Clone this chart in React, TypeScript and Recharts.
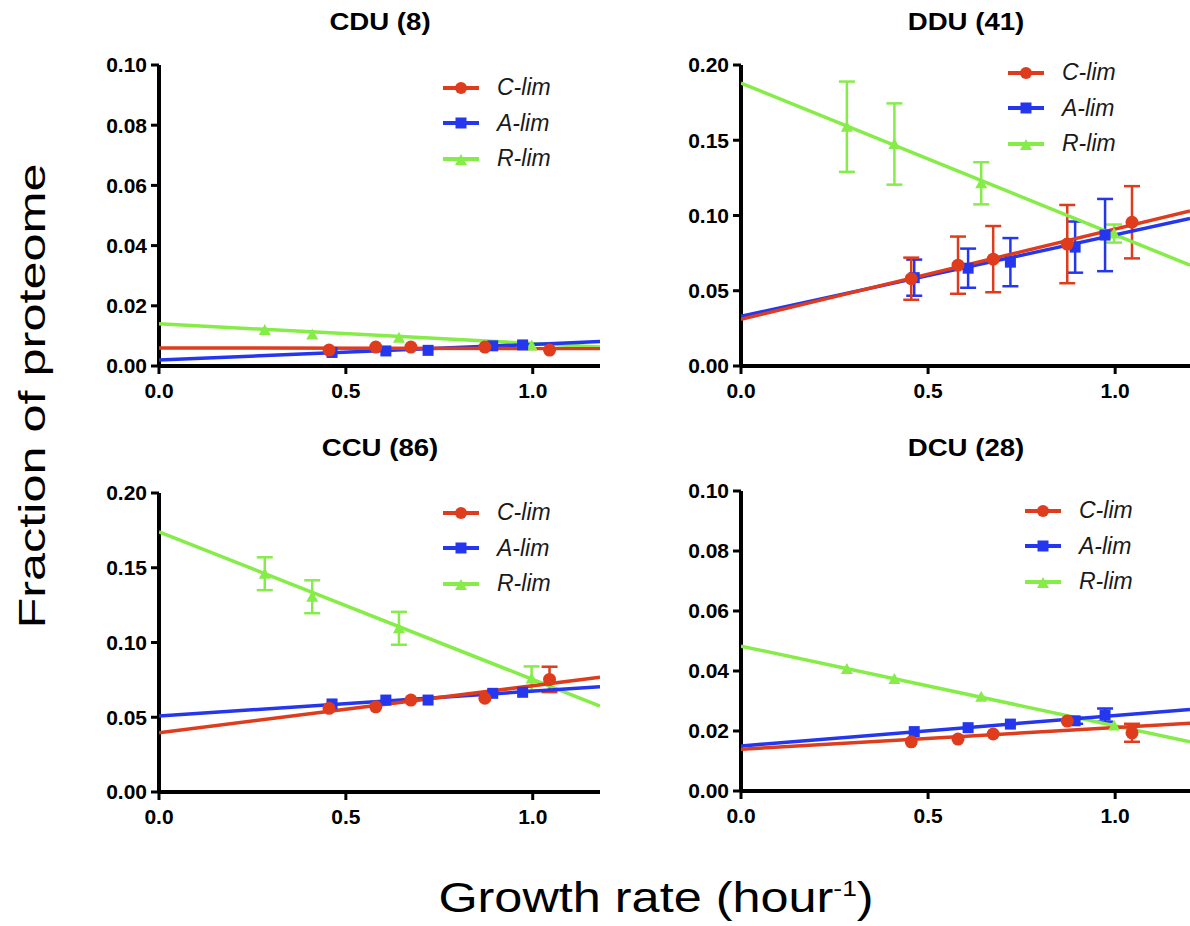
import React from "react";
import { ScatterChart, Scatter, XAxis, YAxis, ErrorBar } from "recharts";

const FONT = '"Liberation Sans", Arial, Helvetica, sans-serif';
const RED = "#df3c1d";
const BLUE = "#2437ee";
const GREEN = "#86ec48";

// growth rates of the three limitation series
const C_RATE = [0.455, 0.58, 0.674, 0.872, 1.045];
const A_RATE = [0.463, 0.607, 0.72, 0.893, 0.973];
const R_RATE = [0.283, 0.41, 0.642, 0.997];

// CDU (8)
const CDU_C = [0.0053, 0.0063, 0.0063, 0.0063, 0.0053];
const CDU_A = [0.0045, 0.005, 0.0052, 0.0067, 0.007];
const CDU_R = [0.012, 0.0105, 0.0094, 0.0068];
const CDU_C_ERR = [0, 0, 0, 0, 0];
const CDU_A_ERR = [0, 0, 0, 0, 0];
const CDU_R_ERR = [0, 0, 0, 0];
const CDU_C_FIT = [0.006, 0.0058];
const CDU_A_FIT = [0.002, 0.0081];
const CDU_R_FIT = [0.014, 0.0063];

// DDU (41)
const DDU_C = [0.058, 0.067, 0.071, 0.081, 0.0955];
const DDU_A = [0.0587, 0.065, 0.069, 0.079, 0.087];
const DDU_R = [0.159, 0.1475, 0.1214, 0.088];
const DDU_C_ERR = [0.014, 0.019, 0.022, 0.026, 0.024];
const DDU_A_ERR = [0.012, 0.013, 0.016, 0.017, 0.024];
const DDU_R_ERR = [0.03, 0.027, 0.014, 0.006];
const DDU_C_FIT = [0.031, 0.103];
const DDU_A_FIT = [0.033, 0.098];
const DDU_R_FIT = [0.188, 0.067];

// CCU (86)
const CCU_C = [0.056, 0.057, 0.0615, 0.0627, 0.0753];
const CCU_A = [0.0589, 0.0615, 0.0615, 0.066, 0.0667];
const CCU_R = [0.146, 0.1306, 0.1095, 0.076];
const CCU_C_ERR = [0, 0, 0, 0, 0.0085];
const CCU_A_ERR = [0, 0, 0, 0, 0];
const CCU_R_ERR = [0.011, 0.011, 0.011, 0.008];
const CCU_C_FIT = [0.0397, 0.0767];
const CCU_A_FIT = [0.0508, 0.0704];
const CCU_R_FIT = [0.174, 0.0575];

// DCU (28)
const DCU_C = [0.0164, 0.0173, 0.019, 0.0233, 0.0194];
const DCU_A = [0.0198, 0.0211, 0.0223, 0.0234, 0.0253];
const DCU_R = [0.0407, 0.0373, 0.0314, 0.0218];
const DCU_C_ERR = [0, 0, 0, 0, 0.003];
const DCU_A_ERR = [0, 0, 0, 0.001, 0.0022];
const DCU_R_ERR = [0, 0, 0, 0];
const DCU_C_FIT = [0.0139, 0.0226];
const DCU_A_FIT = [0.015, 0.0272];
const DCU_R_FIT = [0.0483, 0.0164];

const X_TICKS = [0, 0.5, 1];
const Y_TICKS_SMALL = [0, 0.02, 0.04, 0.06, 0.08, 0.1];
const Y_TICKS_LARGE = [0, 0.05, 0.1, 0.15, 0.2];
const LEGEND_LABELS = ["C-lim", "A-lim", "R-lim"];

const dot = (color: string) => (p: any) => <circle cx={p.cx} cy={p.cy} r={6.5} fill={color} />;
const square = (color: string) => (p: any) => (
  <rect x={p.cx - 5.5} y={p.cy - 5.5} width={11} height={11} fill={color} />
);
const triangle = (color: string) => (p: any) => (
  <polygon points={`${p.cx - 6},${p.cy + 5} ${p.cx + 6},${p.cy + 5} ${p.cx},${p.cy - 6}`} fill={color} />
);
const noShape = () => <g />;

function points(rates: number[], vals: number[], errs: number[]) {
  return rates.map((x, i) => ({ x, y: vals[i], e: errs[i] }));
}

function LegendIcon({ i, color }: { i: number; color: string }) {
  return (
    <svg width={36} height={14} style={{ display: "block" }}>
      <line x1={0} y1={7} x2={36} y2={7} stroke={color} strokeWidth={4} />
      {i === 0 && <circle cx={18} cy={7} r={6} fill={color} />}
      {i === 1 && <rect x={12.5} y={1.5} width={11} height={11} fill={color} />}
      {i === 2 && <polygon points="12,13 24,13 18,2" fill={color} />}
    </svg>
  );
}

function Panel(props: any) {
  const { title, plot, legend, xMax, yMax, yTicks, c, a, r, cErr, aErr, rErr, cFit, aFit, rFit } = props;
  const W = 70 + plot.width + 15;
  const H = 15 + plot.height + 45;
  const fit = (f: number[]) => [
    { x: 0, y: f[0] },
    { x: xMax, y: f[1] },
  ];
  const tick = { fontSize: 21, fontWeight: 700, fill: "#000", fontFamily: FONT };
  const colors = [RED, BLUE, GREEN];
  return (
    <>
      <div
        style={{
          position: "absolute",
          left: plot.left + plot.width / 2 - 300 + props.titleDx,
          width: 600,
          top: plot.top - props.titleDy,
          textAlign: "center",
          fontFamily: FONT,
          fontWeight: 700,
          fontSize: 24,
          lineHeight: "26px",
          transform: "scale(1.15, 1)",
        }}
      >
        {title}
      </div>
      <div style={{ position: "absolute", left: plot.left - 70, top: plot.top - 15 }}>
        <ScatterChart width={W} height={H} margin={{ top: 15, right: 15, bottom: 15, left: 10 }}>
          <XAxis
            type="number"
            dataKey="x"
            domain={[0, xMax]}
            ticks={X_TICKS}
            allowDataOverflow
            tickFormatter={(v: number) => v.toFixed(1)}
            axisLine={{ stroke: "#000", strokeWidth: 4 }}
            tickLine={{ stroke: "#000", strokeWidth: 3 }}
            tickSize={8}
            tickMargin={9}
            height={30}
            tick={tick}
          />
          <YAxis
            type="number"
            dataKey="y"
            domain={[0, yMax]}
            ticks={yTicks}
            allowDataOverflow
            tickFormatter={(v: number) => v.toFixed(2)}
            axisLine={{ stroke: "#000", strokeWidth: 4 }}
            tickLine={{ stroke: "#000", strokeWidth: 3 }}
            tickSize={8}
            tickMargin={4}
            width={60}
            tick={tick}
          />
          <Scatter data={fit(rFit)} line={{ stroke: GREEN, strokeWidth: 3.5 }} shape={noShape} isAnimationActive={false} />
          <Scatter data={fit(aFit)} line={{ stroke: BLUE, strokeWidth: 3.5 }} shape={noShape} isAnimationActive={false} />
          <Scatter data={fit(cFit)} line={{ stroke: RED, strokeWidth: 3.5 }} shape={noShape} isAnimationActive={false} />
          <Scatter data={points(R_RATE, r, rErr)} shape={triangle(GREEN)} isAnimationActive={false}>
            <ErrorBar dataKey="e" direction="y" width={8} stroke={GREEN} strokeWidth={2.5} />
          </Scatter>
          <Scatter data={points(A_RATE, a, aErr)} shape={square(BLUE)} isAnimationActive={false}>
            <ErrorBar dataKey="e" direction="y" width={8} stroke={BLUE} strokeWidth={2.5} />
          </Scatter>
          <Scatter data={points(C_RATE, c, cErr)} shape={dot(RED)} isAnimationActive={false}>
            <ErrorBar dataKey="e" direction="y" width={8} stroke={RED} strokeWidth={2.5} />
          </Scatter>
        </ScatterChart>
      </div>
      <div style={{ position: "absolute", left: legend.x, top: legend.y - 17 }}>
        {LEGEND_LABELS.map((label, i) => (
          <div key={label} style={{ display: "flex", alignItems: "center", height: 35.5 }}>
            <LegendIcon i={i} color={colors[i]} />
            <span
              style={{
                marginLeft: 18,
                fontFamily: FONT,
                fontStyle: "italic",
                fontSize: 23,
                color: "#1a1a1a",
              }}
            >
              {label}
            </span>
          </div>
        ))}
      </div>
    </>
  );
}

export default function App() {
  return (
    <div
      style={{
        position: "absolute",
        left: 0,
        top: 0,
        width: 1190,
        height: 926,
        overflow: "hidden",
        background: "#fff",
      }}
    >
      <Panel
        title="CDU (8)"
        titleDx={0}
        titleDy={56}
        plot={{ left: 159, top: 65, width: 441, height: 301 }}
        legend={{ x: 443, y: 87 }}
        xMax={1.18}
        yMax={0.1}
        yTicks={Y_TICKS_SMALL}
        c={CDU_C}
        a={CDU_A}
        r={CDU_R}
        cErr={CDU_C_ERR}
        aErr={CDU_A_ERR}
        rErr={CDU_R_ERR}
        cFit={CDU_C_FIT}
        aFit={CDU_A_FIT}
        rFit={CDU_R_FIT}
      />
      <Panel
        title="DDU (41)"
        titleDx={0}
        titleDy={56}
        plot={{ left: 741, top: 65, width: 449, height: 301 }}
        legend={{ x: 1008, y: 72 }}
        xMax={1.2}
        yMax={0.2}
        yTicks={Y_TICKS_LARGE}
        c={DDU_C}
        a={DDU_A}
        r={DDU_R}
        cErr={DDU_C_ERR}
        aErr={DDU_A_ERR}
        rErr={DDU_R_ERR}
        cFit={DDU_C_FIT}
        aFit={DDU_A_FIT}
        rFit={DDU_R_FIT}
      />
      <Panel
        title="CCU (86)"
        titleDx={0}
        titleDy={58}
        plot={{ left: 159, top: 493, width: 441, height: 299 }}
        legend={{ x: 443, y: 512 }}
        xMax={1.18}
        yMax={0.2}
        yTicks={Y_TICKS_LARGE}
        c={CCU_C}
        a={CCU_A}
        r={CCU_R}
        cErr={CCU_C_ERR}
        aErr={CCU_A_ERR}
        rErr={CCU_R_ERR}
        cFit={CCU_C_FIT}
        aFit={CCU_A_FIT}
        rFit={CCU_R_FIT}
      />
      <Panel
        title="DCU (28)"
        titleDx={0}
        titleDy={56}
        plot={{ left: 741, top: 491, width: 449, height: 300 }}
        legend={{ x: 1025, y: 510 }}
        xMax={1.2}
        yMax={0.1}
        yTicks={Y_TICKS_SMALL}
        c={DCU_C}
        a={DCU_A}
        r={DCU_R}
        cErr={DCU_C_ERR}
        aErr={DCU_A_ERR}
        rErr={DCU_R_ERR}
        cFit={DCU_C_FIT}
        aFit={DCU_A_FIT}
        rFit={DCU_R_FIT}
      />
      <div
        style={{
          position: "absolute",
          left: 33,
          top: 396,
          transform: "translate(-50%, -50%) rotate(-90deg) scale(1.4, 1)",
          whiteSpace: "nowrap",
          fontFamily: FONT,
          fontSize: 36,
          lineHeight: "40px",
          color: "#000",
        }}
      >
        Fraction of proteome
      </div>
      <div
        style={{
          position: "absolute",
          left: 656,
          top: 893,
          transform: "translate(-50%, -50%) scale(1.2, 1)",
          whiteSpace: "nowrap",
          fontFamily: FONT,
          fontSize: 42,
          lineHeight: "46px",
          color: "#000",
        }}
      >
        Growth rate (hour
        <span style={{ fontSize: 22, verticalAlign: 16 }}>-1</span>)
      </div>
    </div>
  );
}
